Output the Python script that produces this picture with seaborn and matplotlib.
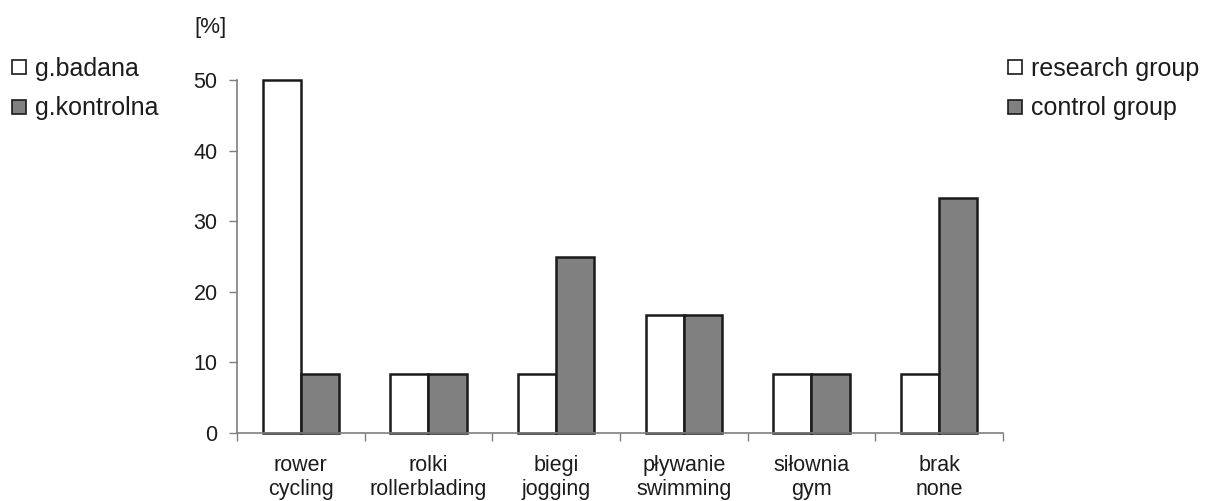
import matplotlib
matplotlib.use("Agg")
import matplotlib.pyplot as plt
from matplotlib.lines import Line2D
import seaborn as sns
import pandas as pd

categories = ["rower\ncycling", "rolki\nrollerblading", "biegi\njogging",
              "pływanie\nswimming", "siłownia\ngym", "brak\nnone"]
research_group = [50.0, 8.33, 8.33, 16.67, 8.33, 8.33]
control_group = [8.33, 8.33, 25.0, 16.67, 8.33, 33.33]
groups = ["g.badana", "g.kontrolna"]
groups_en = ["research group", "control group"]
y_ticks = [0, 10, 20, 30, 40, 50]

df = pd.DataFrame({
    "category": categories * 2,
    "group": [groups[0]] * len(categories) + [groups[1]] * len(categories),
    "value": research_group + control_group,
})

sns.set_theme(style="white")
plt.rcParams["font.family"] = ["Liberation Sans", "DejaVu Sans"]

AXIS_FS = 15.5
LEGEND_FS = 18
text_color = "#1c1c1c"
fill_colors = ["#ffffff", "#808080"]
axis_grey = "#7f7f7f"

fig = plt.figure(figsize=(12.10, 5.01), dpi=100)
ax = fig.add_axes([237 / 1210, 1 - 433 / 501, (1003 - 237) / 1210, (433 - 80) / 501])

sns.barplot(data=df, x="category", y="value", hue="group", order=categories,
            hue_order=groups, palette=fill_colors, width=0.6, gap=0,
            edgecolor="#1a1a1a", linewidth=1.8, saturation=1, legend=False, ax=ax)
for p in ax.patches:
    p.set_clip_on(False)

ax.set_xlim(-0.5, len(categories) - 0.5)
ax.set_ylim(0, 50)
ax.set_yticks(y_ticks)
ax.set_yticklabels([str(t) for t in y_ticks], fontsize=AXIS_FS, color=text_color)
ax.tick_params(axis="y", direction="out", length=6, width=1, color=axis_grey,
               pad=8, left=True)

# category boundaries carry the tick marks, centres carry the labels
ax.set_xticks([i - 0.5 for i in range(len(categories) + 1)])
ax.set_xticklabels([])
ax.set_xticks(range(len(categories)), minor=True)
ax.set_xticklabels(categories, minor=True, fontsize=AXIS_FS, color=text_color,
                   linespacing=1.16)
ax.tick_params(axis="x", which="major", direction="out", length=6, width=1,
               color=axis_grey, bottom=True)
ax.tick_params(axis="x", which="minor", length=0, pad=16)
ax.set_xlabel("")
ax.set_ylabel("")

for side in ["top", "right"]:
    ax.spines[side].set_visible(False)
for side in ["left", "bottom"]:
    ax.spines[side].set_color(axis_grey)
    ax.spines[side].set_linewidth(1.2)

fig.text(211 / 1210, 1 - 28 / 501, "[%]", fontsize=AXIS_FS + 0.5,
         color=text_color, ha="center", va="center")

def make_handles():
    return [Line2D([0], [0], marker="s", linestyle="none", markersize=9.5,
                   markerfacecolor=c, markeredgecolor="#1a1a1a",
                   markeredgewidth=1.2) for c in fill_colors]

leg_kw = dict(frameon=False, fontsize=LEGEND_FS, handlelength=0.4,
              handletextpad=0.45, labelspacing=0.62, borderaxespad=0,
              labelcolor=text_color)
fig.legend(make_handles(), groups, loc="upper left",
           bbox_to_anchor=(4 / 1210, 1 - 47 / 501), **leg_kw)
fig.legend(make_handles(), groups_en, loc="upper left",
           bbox_to_anchor=(1000 / 1210, 1 - 47 / 501), **leg_kw)

fig.savefig("out.png", dpi=100, facecolor="white")
